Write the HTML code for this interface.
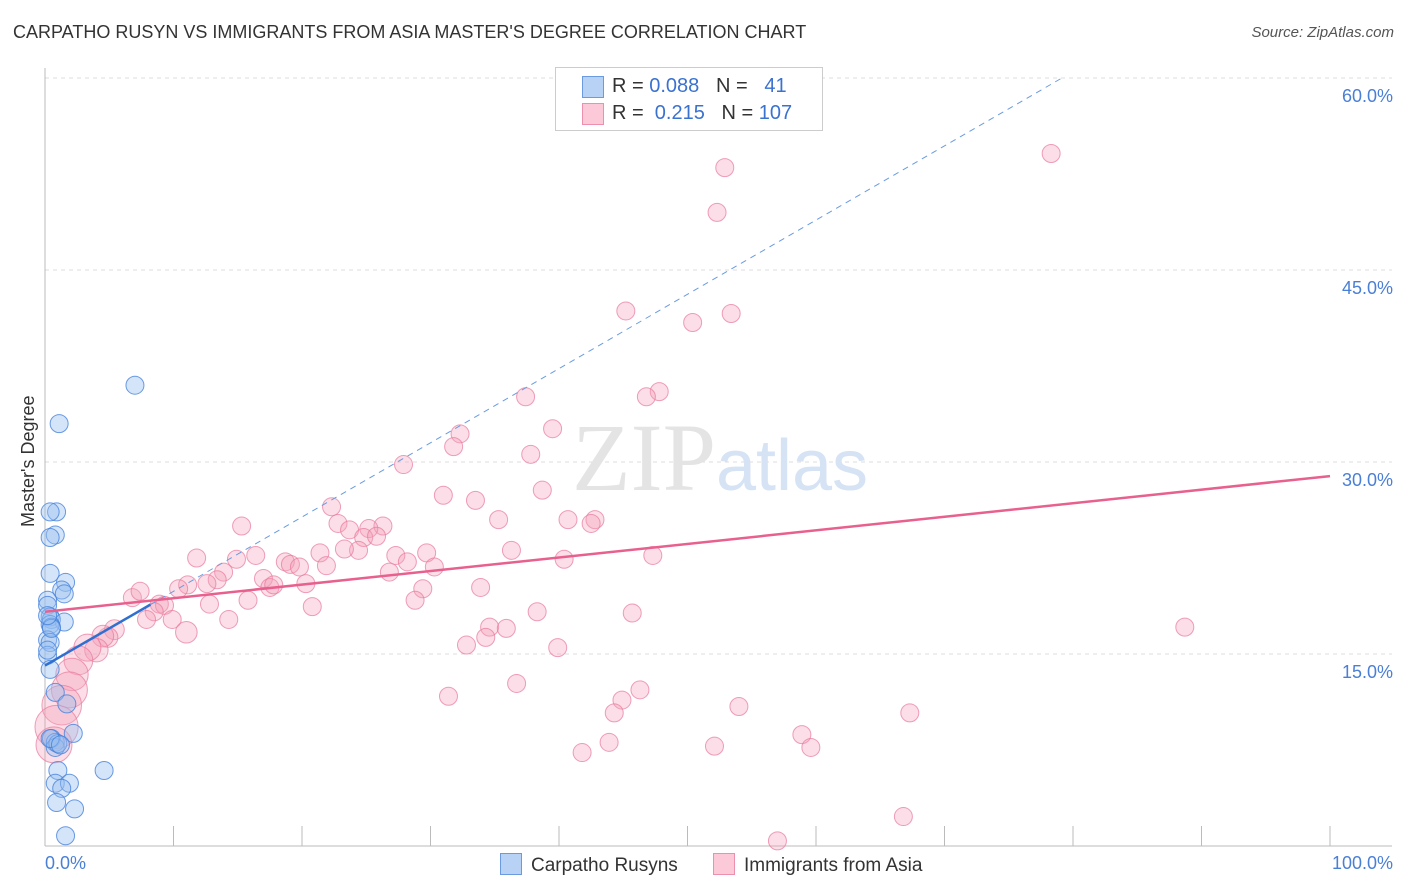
<!DOCTYPE html>
<html><head><meta charset="utf-8"><style>
body{margin:0;background:#fff;font-family:"Liberation Sans",sans-serif;}
#wrap{position:relative;width:1406px;height:892px;overflow:hidden;}
.t{position:absolute;white-space:nowrap;}
</style></head><body>
<div id="wrap">
<div class="t" style="left:13px;top:22px;font-size:18px;color:#333;">CARPATHO RUSYN VS IMMIGRANTS FROM ASIA MASTER'S DEGREE CORRELATION CHART</div>
<div class="t" style="right:12px;top:24px;font-size:15px;color:#555;font-style:italic;">Source: ZipAtlas.com</div>
<div class="t" style="left:6px;top:455px;font-size:18px;color:#333;transform:rotate(-90deg);transform-origin:0 0;left:18px;top:527px;">Master's Degree</div>
<svg id="svg" width="1406" height="892" style="position:absolute;left:0;top:0"></svg>
</div>
<script>
const blueX=[7.0,1.1,0.9,0.4,0.8,0.4,0.4,1.6,1.3,1.5,0.2,0.2,0.4,0.5,1.5,0.4,0.5,0.2,0.4,0.5,0.2,0.4,0.8,1.7,0.5,0.8,0.8,1.0,2.2,4.6,1.0,0.8,1.9,1.3,0.9,2.3,1.6,0.2,0.2,0.4,1.2];
const blueY=[36.0,33.0,26.1,26.1,24.3,24.1,21.3,20.6,20.0,19.7,19.2,18.8,17.9,17.7,17.5,17.3,17.1,16.1,15.9,17.0,14.9,13.8,12.0,11.1,8.4,8.1,7.7,8.0,8.8,5.9,5.9,4.9,4.9,4.5,3.4,2.9,0.8,15.3,18.0,8.4,7.9];
const pinkX=[78.3,52.9,52.3,45.2,53.4,50.4,47.8,46.8,37.4,32.3,39.5,31.8,37.8,27.9,38.7,31.0,33.5,22.3,35.3,40.7,42.8,42.5,15.3,22.8,23.7,26.3,25.2,24.8,25.8,11.8,14.9,16.4,21.4,24.4,23.3,29.7,27.3,36.3,40.4,47.3,13.9,17.0,18.7,19.1,19.8,21.9,28.2,30.3,26.8,11.1,13.4,12.6,10.4,17.5,17.8,20.3,29.4,33.9,6.8,7.4,8.9,9.3,15.8,12.8,28.8,8.5,20.8,38.3,45.7,88.7,7.9,14.3,9.9,11.0,34.6,35.9,34.3,32.8,39.9,5.4,4.9,4.5,4.0,3.3,2.6,2.1,1.9,1.3,0.9,0.7,31.4,36.7,46.3,44.9,44.3,54.0,67.3,52.1,43.9,41.8,58.9,59.6,57.0,66.8];
const pinkY=[54.1,53.0,49.5,41.8,41.6,40.9,35.5,35.1,35.1,32.2,32.6,31.2,30.6,29.8,27.8,27.4,27.0,26.5,25.5,25.5,25.5,25.2,25.0,25.2,24.7,25.0,24.8,24.1,24.2,22.5,22.4,22.7,22.9,23.1,23.2,22.9,22.7,23.1,22.4,22.7,21.4,20.9,22.2,22.0,21.8,21.9,22.2,21.8,21.4,20.4,20.8,20.5,20.1,20.2,20.4,20.5,20.1,20.2,19.4,19.9,18.9,18.8,19.2,18.9,19.2,18.3,18.7,18.3,18.2,17.1,17.7,17.7,17.7,16.7,17.1,17.0,16.3,15.7,15.5,16.9,16.3,16.4,15.3,15.5,14.5,13.4,12.2,11.0,9.3,7.9,11.7,12.7,12.2,11.4,10.4,10.9,10.4,7.8,8.1,7.3,8.7,7.7,0.4,2.3];
const pinkSize=[];for(let i=0;i<pinkX.length;i++)pinkSize.push(1);
pinkSize[73]=1.2;pinkSize[79]=1.1;pinkSize[80]=1.1;pinkSize[81]=1.2;pinkSize[82]=1.3;pinkSize[83]=1.5;pinkSize[84]=1.6;pinkSize[85]=1.8;pinkSize[86]=2.0;pinkSize[87]=2.2;pinkSize[88]=2.4;pinkSize[89]=2.0;
const yTicks=[15,30,45,60];
const yTickLabels=["15.0%","30.0%","45.0%","60.0%"];
const pinkTrend=[18.3,28.9];
const blueTrend=[14.1,0.58];
const X=v=>45+v*12.85, Y=v=>846-v*12.8;
const svg=document.getElementById('svg');const NS='http://www.w3.org/2000/svg';
function mk(tag,a,p){const e=document.createElementNS(NS,tag);for(const k in a)e.setAttribute(k,a[k]);(p||svg).appendChild(e);return e;}
// gridlines
yTicks.forEach((t,i)=>{
 const l=mk('line',{x1:45,x2:1392,y1:Y(t),y2:Y(t),stroke:'#ddd','stroke-dasharray':'4,4'});
 
 
 const tx=mk('text',{x:1393,y:Y(t)+24,'text-anchor':'end','font-size':18,fill:'#4a7fd6','font-family':'Liberation Sans'});
 tx.textContent=yTickLabels[i];
 
 
});
const ax=mk('line',{x1:45,x2:45,y1:68,y2:846,stroke:'#bbb'});


const axx=mk('line',{x1:45,x2:1392,y1:846,y2:846,stroke:'#bbb'});


for(let i=0;i<=10;i++){const t=mk('line',{x1:X(i*10),x2:X(i*10),y1:826,y2:846,stroke:'#bbb'});
 
 }
[['0.0%',45,'start'],['100.0%',1393,'end']].forEach(a=>{const t=mk('text',{x:a[1],y:869,'text-anchor':a[2],'font-size':18,fill:'#4a7fd6','font-family':'Liberation Sans'});t.textContent=a[0];
 
 });
// watermark
const wm=mk('text',{x:720,y:490,'text-anchor':'middle','font-size':96,'font-family':'Liberation Serif',fill:'#e4e4e4'});
wm.innerHTML='ZIP<tspan font-family="Liberation Sans" font-size="72" fill="#d6e3f5">atlas</tspan>';


// points
pinkX.forEach((x,i)=>{const c=mk('circle',{cx:X(x),cy:Y(pinkY[i]),r:9*pinkSize[i],fill:'rgba(244,160,185,0.35)',stroke:'rgba(232,120,155,0.7)','stroke-width':1});
 
 });
blueX.forEach((x,i)=>{const c=mk('circle',{cx:X(x),cy:Y(blueY[i]),r:9,fill:'rgba(150,190,240,0.4)',stroke:'rgba(70,130,220,0.8)','stroke-width':1});
 
 });
// trends
const xe=(60-blueTrend[0])/blueTrend[1];
const bd=mk('line',{x1:X(8.2),y1:Y(blueTrend[0]+blueTrend[1]*8.2),x2:X(xe),y2:Y(60),stroke:'#6a9be0','stroke-width':1,'stroke-dasharray':'6,5'});


const pl=mk('line',{x1:X(0),y1:Y(pinkTrend[0]),x2:X(100),y2:Y(pinkTrend[1]),stroke:'#e8608e','stroke-width':2.5});


const bl=mk('line',{x1:X(0),y1:Y(blueTrend[0]),x2:X(8.2),y2:Y(blueTrend[0]+blueTrend[1]*8.2),stroke:'#2f6fd0','stroke-width':2.5});


</script>
<div class="t" style="left:555px;top:67px;width:266px;height:62px;border:1px solid #ccc;background:#fff;font-size:20px;">
 <div class="t" style="left:26px;top:8px;width:20px;height:20px;background:#b8d2f5;border:1px solid #6a9be0;"></div>
 <div class="t" style="left:56px;top:7px;color:#333;">R = <span style="color:#3a72d0">0.088</span>&nbsp;&nbsp;&nbsp;N = &nbsp;&nbsp;<span style="color:#3a72d0">41</span></div>
 <div class="t" style="left:26px;top:35px;width:20px;height:20px;background:#fbc9d8;border:1px solid #ec90ae;"></div>
 <div class="t" style="left:56px;top:34px;color:#333;">R = &nbsp;<span style="color:#3a72d0">0.215</span>&nbsp;&nbsp;&nbsp;N = <span style="color:#3a72d0">107</span></div>
</div>
<div class="t" style="left:500px;top:853px;font-size:19px;color:#333;"><span style="display:inline-block;width:20px;height:20px;background:#b8d2f5;border:1px solid #6a9be0;vertical-align:-4px;margin-right:9px"></span>Carpatho Rusyns</div>
<div class="t" style="left:713px;top:853px;font-size:19px;color:#333;"><span style="display:inline-block;width:20px;height:20px;background:#fbc9d8;border:1px solid #ec90ae;vertical-align:-4px;margin-right:9px"></span>Immigrants from Asia</div>
</body></html>
